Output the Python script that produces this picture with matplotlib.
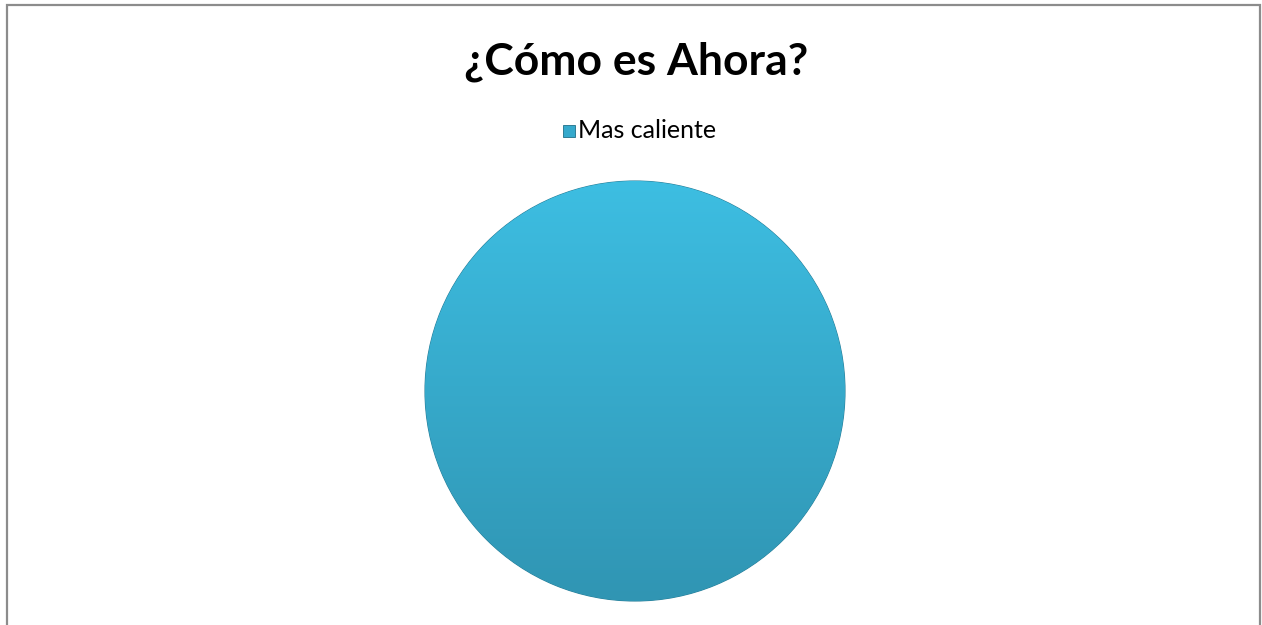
import numpy as np
import matplotlib
matplotlib.use('Agg')
from matplotlib import pyplot as plt
from matplotlib.patches import Rectangle

# datos
categorias = ['Mas caliente']
valores = [100]
titulo = '¿Cómo es Ahora?'
color_arriba = '#3dbee2'
color_abajo = '#3095b3'

plt.rcParams['font.family'] = ['Lato', 'DejaVu Sans']

fig = plt.figure(figsize=(12.62, 6.25), dpi=100)
W, H = 1262, 625

# marco gris del grafico
fig.patches.append(Rectangle((7 / W, -0.05), (1260 - 7) / W, (H - 5) / H + 0.05,
                             transform=fig.transFigure, fill=False,
                             edgecolor='#8c8c8c', linewidth=1.6))

fig.text(636 / W, 1 - 62 / H, titulo, ha='center', va='center',
         fontsize=32, fontweight='bold', color='black')

# circulo
r = 210
cx, cy = 635, 391
ax = fig.add_axes([(cx - r) / W, 1 - (cy + r) / H, 2 * r / W, 2 * r / H])
wedges, _ = ax.pie(valores, colors=[color_arriba], startangle=90, radius=1,
                   wedgeprops={'linewidth': 0.8, 'edgecolor': '#2a7f99'})
ax.set_xlim(-1, 1)
ax.set_ylim(-1, 1)
ax.set_aspect('equal')
ax.axis('off')

# degradado vertical dentro del circulo
c1 = np.array(matplotlib.colors.to_rgb(color_arriba))
c2 = np.array(matplotlib.colors.to_rgb(color_abajo))
t = np.linspace(0, 1, 256)[:, None]
grad = c1 * (1 - t) + c2 * t
grad = grad[:, None, :].repeat(2, axis=1)
im = ax.imshow(grad, extent=[-1, 1, -1, 1], origin='upper', aspect='auto', zorder=2)
im.set_clip_path(wedges[0])

# leyenda
lx = fig.add_axes([0, 0, 1, 1], facecolor='none')
lx.set_xlim(0, W)
lx.set_ylim(H, 0)
lx.axis('off')
lx.add_patch(Rectangle((563, 125), 12, 12, facecolor='#35a9cc', edgecolor='#1f6f88', linewidth=0.6))
lx.text(578, 131, categorias[0], ha='left', va='center', fontsize=18, color='black')

fig.savefig('out.png', dpi=100)
